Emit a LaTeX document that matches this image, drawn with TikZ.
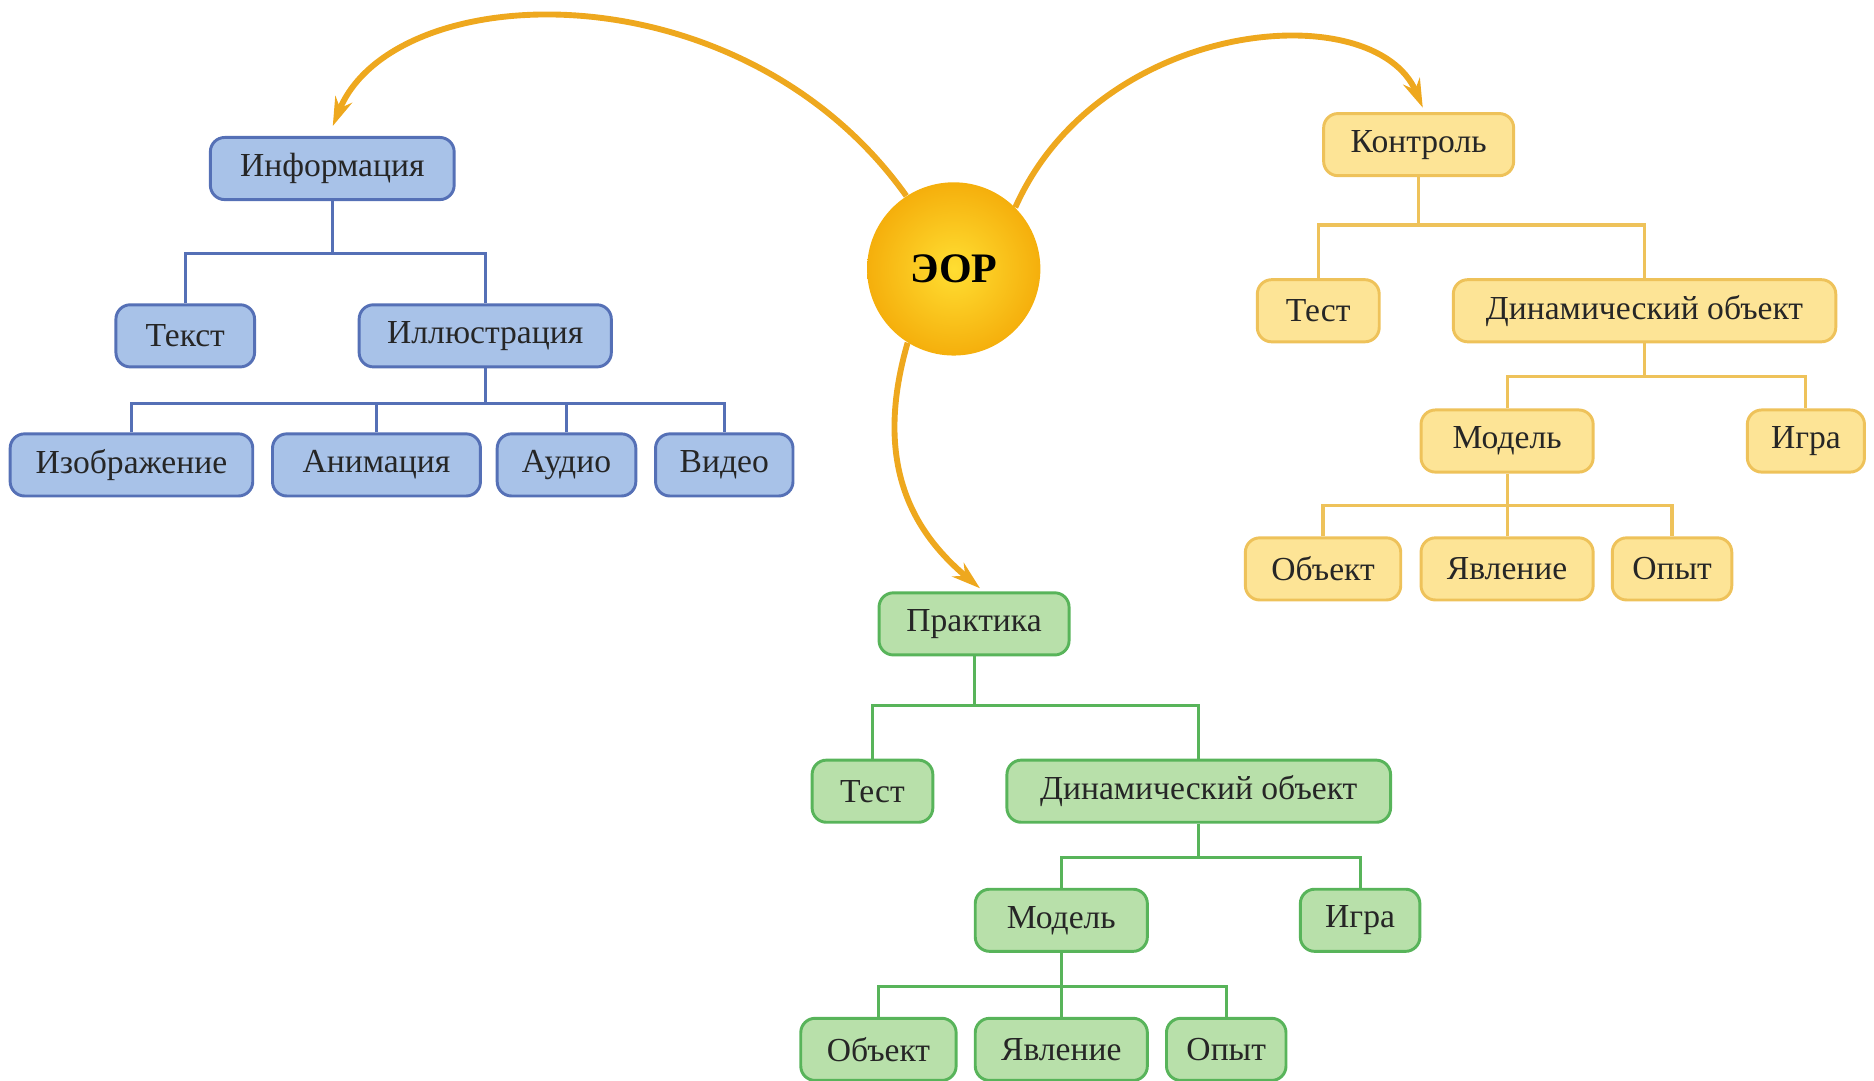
\documentclass[tikz,border=0pt]{standalone}
\usepackage{fontspec}
\setmainfont{Liberation Serif}
\usetikzlibrary{arrows.meta,positioning}

\definecolor{infofill}{HTML}{A8C2E8}
\definecolor{infodraw}{HTML}{5570B6}
\definecolor{ctrlfill}{HTML}{FDE496}
\definecolor{ctrldraw}{HTML}{EEC25A}
\definecolor{pracfill}{HTML}{B8E0AA}
\definecolor{pracdraw}{HTML}{58B45A}
\definecolor{flowcol}{HTML}{EEA81E}

\tikzset{
  box/.style={draw, rounded corners=0.24cm, line width=1.4pt,
    minimum height=1.04cm, inner xsep=0.2cm,
    font=\fontsize{16}{19}\selectfont, text=black!85},
  bw/.style={minimum width=#1*0.02cm},
  infobox/.style={box, fill=infofill, draw=infodraw, bw=#1},
  ctrlbox/.style={box, fill=ctrlfill, draw=ctrldraw, bw=#1},
  pracbox/.style={box, fill=pracfill, draw=pracdraw, bw=#1},
  infolink/.style={draw=infodraw, line width=1.4pt},
  ctrllink/.style={draw=ctrldraw, line width=1.5pt},
  praclink/.style={draw=pracdraw, line width=1.4pt},
  flow/.style={draw=flowcol, line width=2.8pt,
    -{Stealth[length=0.48cm, width=0.3cm]}}
}

\begin{document}
\begin{tikzpicture}[x=0.02cm, y=-0.02cm]
  \useasboundingbox (0,0) rectangle (1568,904);

  % --- Centre ---
  \node[circle, minimum size=2.9cm, shading=radial,
        inner color={rgb,255:red,255;green,222;blue,50},
        outer color={rgb,255:red,245;green,175;blue,12},
        font=\fontsize{20}{24}\selectfont\bfseries] (eor) at (798,225) {ЭОР};

  % --- Информация (blue) ---
  \node[infobox=204] (info)  at (278,141) {Информация};
  \node[infobox=116] (itext) at (155,281) {Текст};
  \node[infobox=211] (iill)  at (406,281) {Иллюстрация};
  \node[infobox=203] (iimg)  at (110,389) {Изображение};
  \node[infobox=174] (ianim) at (315,389) {Анимация};
  \node[infobox=116] (iaud)  at (474,389) {Аудио};
  \node[infobox=115] (ivid)  at (606,389) {Видео};

  \draw[infolink] (info.south) -- ++(0,44) coordinate (ibus);
  \draw[infolink] (itext.north) |- (ibus) -| (iill.north);
  \draw[infolink] (iill.south) -- ++(0,29) coordinate (ibus2);
  \draw[infolink] (iimg.north) |- (ibus2) -| (ivid.north);
  \foreach \n in {ianim,iaud}
    \draw[infolink] (\n.north) -- (\n.north |- ibus2);

  % --- Контроль (yellow) ---
  \node[ctrlbox=159] (ctrl)  at (1187,121) {Контроль};
  \node[ctrlbox=102] (ctest) at (1103,260) {Тест};
  \node[ctrlbox=320] (cdyn)  at (1376,260) {Динамический объект};
  \node[ctrlbox=144] (cmod)  at (1261,369) {Модель};
  \node[ctrlbox=98]  (cgame) at (1511,369) {Игра};
  \node[ctrlbox=130] (cobj)  at (1107,476) {Объект};
  \node[ctrlbox=144] (cphen) at (1261,476) {Явление};
  \node[ctrlbox=100] (cexp)  at (1399,476) {Опыт};

  \draw[ctrllink] (ctrl.south) -- ++(0,40) coordinate (cbus);
  \draw[ctrllink] (ctest.north) |- (cbus) -| (cdyn.north);
  \draw[ctrllink] (cdyn.south) -- ++(0,28) coordinate (cbus2);
  \draw[ctrllink] (cmod.north) |- (cbus2) -| (cgame.north);
  \draw[ctrllink] (cmod.south) -- ++(0,27) coordinate (cbus3);
  \draw[ctrllink] (cobj.north) |- (cbus3) -| (cexp.north);
  \draw[ctrllink] (cphen.north) -- (cbus3);

  % --- Практика (green) ---
  \node[pracbox=159] (prac)  at (815,522) {Практика};
  \node[pracbox=101] (ptest) at (730,662) {Тест};
  \node[pracbox=321] (pdyn)  at (1003,662) {Динамический объект};
  \node[pracbox=144] (pmod)  at (888,770) {Модель};
  \node[pracbox=100] (pgame) at (1138,770) {Игра};
  \node[pracbox=130] (pobj)  at (735,878) {Объект};
  \node[pracbox=144] (pphen) at (888,878) {Явление};
  \node[pracbox=100] (pexp)  at (1026,878) {Опыт};

  \draw[praclink] (prac.south) -- ++(0,41) coordinate (pbus);
  \draw[praclink] (ptest.north) |- (pbus) -| (pdyn.north);
  \draw[praclink] (pdyn.south) -- ++(0,28) coordinate (pbus2);
  \draw[praclink] (pmod.north) |- (pbus2) -| (pgame.north);
  \draw[praclink] (pmod.south) -- ++(0,28) coordinate (pbus3);
  \draw[praclink] (pobj.north) |- (pbus3) -| (pexp.north);
  \draw[praclink] (pphen.north) -- (pbus3);

  % --- Arrows from the centre ---
  \draw[flow, shorten >=0.18cm] (eor.123) .. controls (620,-30) and (330,-20) .. ([xshift=-0.06cm]info.north);
  \draw[flow, shorten >=0.08cm] (eor.45) .. controls (920,15) and (1150,-5) .. ([xshift=0.1cm]ctrl.north);
  \draw[flow, shorten >=0.08cm] (eor.238) .. controls (728,395) and (770,450) .. ([xshift=0.16cm]prac.north);
\end{tikzpicture}
\end{document}
